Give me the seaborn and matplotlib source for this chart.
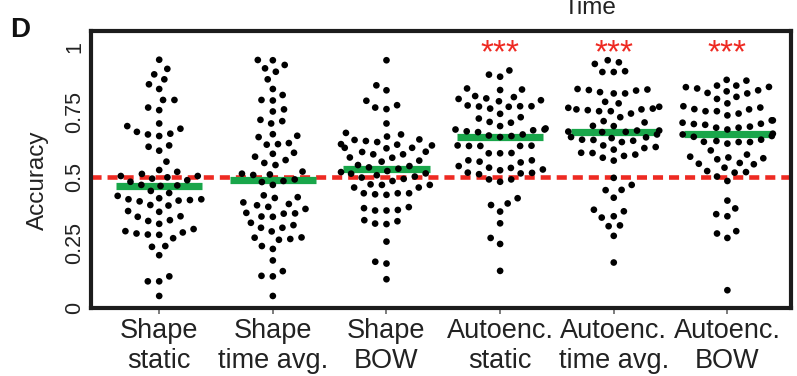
import matplotlib
matplotlib.use("Agg")
import matplotlib.pyplot as plt
import seaborn as sns
import numpy as np
import pandas as pd

categories = ["Shape\nstatic", "Shape\ntime avg.", "Shape\nBOW",
              "Autoenc.\nstatic", "Autoenc.\ntime avg.", "Autoenc.\nBOW"]

shape_static = [0.950, 0.915, 0.894, 0.875, 0.856, 0.838, 0.796, 0.796, 0.767, 0.757,
                0.706, 0.696, 0.686, 0.674, 0.667, 0.664, 0.658, 0.622, 0.617, 0.602,
                0.560, 0.528, 0.521, 0.513, 0.505, 0.505, 0.500, 0.495, 0.489, 0.483,
                0.471, 0.469, 0.467, 0.448, 0.440, 0.429, 0.420, 0.416, 0.416, 0.413,
                0.411, 0.408, 0.394, 0.392, 0.371, 0.368, 0.351, 0.349, 0.336, 0.333,
                0.322, 0.302, 0.294, 0.289, 0.285, 0.281, 0.280, 0.267, 0.237, 0.234,
                0.202, 0.121, 0.102, 0.102, 0.046]
shape_time_avg = [0.949, 0.948, 0.930, 0.917, 0.904, 0.875, 0.838, 0.815, 0.796, 0.794,
                  0.760, 0.752, 0.720, 0.715, 0.706, 0.665, 0.659, 0.654, 0.631, 0.627,
                  0.625, 0.594, 0.590, 0.579, 0.566, 0.555, 0.547, 0.522, 0.514, 0.511,
                  0.509, 0.492, 0.486, 0.482, 0.471, 0.431, 0.424, 0.421, 0.404, 0.398,
                  0.393, 0.387, 0.379, 0.364, 0.362, 0.361, 0.350, 0.349, 0.326, 0.317,
                  0.307, 0.307, 0.293, 0.270, 0.269, 0.264, 0.261, 0.237, 0.226, 0.182,
                  0.141, 0.123, 0.121, 0.046]
shape_bow = [0.948, 0.852, 0.833, 0.793, 0.776, 0.767, 0.761, 0.706, 0.670, 0.664,
             0.656, 0.645, 0.643, 0.639, 0.635, 0.627, 0.625, 0.622, 0.613, 0.613,
             0.611, 0.598, 0.597, 0.588, 0.588, 0.576, 0.575, 0.564, 0.560, 0.547,
             0.543, 0.538, 0.533, 0.524, 0.520, 0.515, 0.514, 0.508, 0.503, 0.499,
             0.494, 0.486, 0.473, 0.471, 0.471, 0.461, 0.461, 0.439, 0.439, 0.439,
             0.435, 0.433, 0.386, 0.382, 0.375, 0.373, 0.373, 0.336, 0.332, 0.323,
             0.321, 0.254, 0.177, 0.170, 0.110]
autoenc_static = [0.909, 0.893, 0.885, 0.840, 0.836, 0.834, 0.811, 0.807, 0.802, 0.800,
                  0.795, 0.791, 0.775, 0.772, 0.772, 0.771, 0.770, 0.763, 0.743, 0.730,
                  0.725, 0.712, 0.709, 0.696, 0.687, 0.683, 0.683, 0.680, 0.676, 0.673,
                  0.664, 0.660, 0.658, 0.654, 0.622, 0.621, 0.620, 0.620, 0.620, 0.593,
                  0.592, 0.592, 0.565, 0.565, 0.560, 0.557, 0.543, 0.537, 0.536, 0.530,
                  0.527, 0.518, 0.517, 0.515, 0.512, 0.492, 0.492, 0.483, 0.420, 0.400,
                  0.394, 0.369, 0.324, 0.268, 0.245, 0.142]
autoenc_time_avg = [0.948, 0.940, 0.934, 0.906, 0.903, 0.903, 0.838, 0.836, 0.834, 0.832,
                    0.826, 0.821, 0.821, 0.789, 0.783, 0.770, 0.766, 0.760, 0.760, 0.757,
                    0.753, 0.763, 0.753, 0.744, 0.730, 0.715, 0.710, 0.697, 0.696, 0.679,
                    0.679, 0.675, 0.674, 0.673, 0.664, 0.654, 0.653, 0.650, 0.644, 0.643,
                    0.640, 0.635, 0.622, 0.616, 0.612, 0.606, 0.594, 0.593, 0.587, 0.582,
                    0.575, 0.564, 0.498, 0.471, 0.452, 0.451, 0.422, 0.376, 0.370, 0.351,
                    0.346, 0.316, 0.313, 0.276, 0.174]
autoenc_bow = [0.873, 0.870, 0.851, 0.851, 0.846, 0.845, 0.840, 0.833, 0.829, 0.823,
               0.821, 0.808, 0.800, 0.783, 0.772, 0.767, 0.761, 0.760, 0.753, 0.753,
               0.744, 0.737, 0.718, 0.718, 0.709, 0.705, 0.704, 0.701, 0.690, 0.694,
               0.690, 0.683, 0.667, 0.664, 0.658, 0.655, 0.644, 0.639, 0.636, 0.635,
               0.635, 0.629, 0.603, 0.587, 0.579, 0.576, 0.573, 0.569, 0.555, 0.552,
               0.550, 0.537, 0.524, 0.520, 0.518, 0.503, 0.486, 0.411, 0.381, 0.359,
               0.351, 0.294, 0.285, 0.268, 0.068]

chance_level = 0.5
significance = ["", "", "", "***", "***", "***"]
ytick_values = [0, 0.25, 0.5, 0.75, 1]
ytick_labels = ["0", "0.25", "0.5", "0.75", "1"]

series = [shape_static, shape_time_avg, shape_bow,
          autoenc_static, autoenc_time_avg, autoenc_bow]
df = pd.DataFrame({
    "model": np.concatenate([[c] * len(v) for c, v in zip(categories, series)]),
    "accuracy": np.concatenate(series),
})

sns.set_style("white")
plt.rcParams["font.family"] = ["Liberation Sans", "DejaVu Sans"]

fig = plt.figure(figsize=(7.97, 3.76), dpi=100)
ax = fig.add_axes([0.1142, 0.1809, 0.8783, 0.7367])

GREEN = "#19a64a"
RED = "#ee2a22"

# chance level
ax.axhline(chance_level, color=RED, lw=3.3, dashes=(2.2, 1.3), zorder=1)

# medians
medians = df.groupby("model", sort=False)["accuracy"].median().reindex(categories)
ax.hlines(medians.values, np.arange(len(categories)) - 0.38,
          np.arange(len(categories)) + 0.38, color=GREEN, lw=5.2, zorder=2)

sns.swarmplot(data=df, x="model", y="accuracy", order=categories, color="black",
              size=4.8, linewidth=3.0, edgecolor="none", ax=ax, zorder=3,
              warn_thresh=1.0)

for i, s in enumerate(significance):
    if s:
        ax.text(i, 0.94, s, ha="center", va="baseline", color=RED, fontsize=24,
                fontweight="normal")

ax.set_xlim(-0.6, 5.56)
ax.set_ylim(0, 1.06)
ax.set_yticks(ytick_values)
ax.set_yticklabels(ytick_labels, rotation=90, va="center", fontsize=15.5, color="#222222")
ax.tick_params(axis="x", labelsize=19.5, length=4, width=1.2, color="#666666",
               pad=3, labelcolor="#222222", direction="out", bottom=True)
ax.tick_params(axis="y", length=0, pad=4)
for lab in ax.get_xticklabels():
    lab.set_linespacing(1.2)
ax.set_xlabel("")
ax.set_ylabel("Accuracy", fontsize=17.5, color="#222222")
ax.yaxis.set_label_coords(-0.060, 0.462)

for sp in ax.spines.values():
    sp.set_linewidth(3.0)
    sp.set_color("#1c1c1c")
    sp.set_visible(True)

fig.text(0.0125, 1 - 37 / 376, "D", fontsize=20, fontweight="bold", ha="left",
         va="baseline", color="#111111")
fig.text(590 / 797, 1 - 14 / 376, "Time", fontsize=17.5, ha="center", va="baseline",
         color="#222222")

fig.savefig("out.png", dpi=100)
